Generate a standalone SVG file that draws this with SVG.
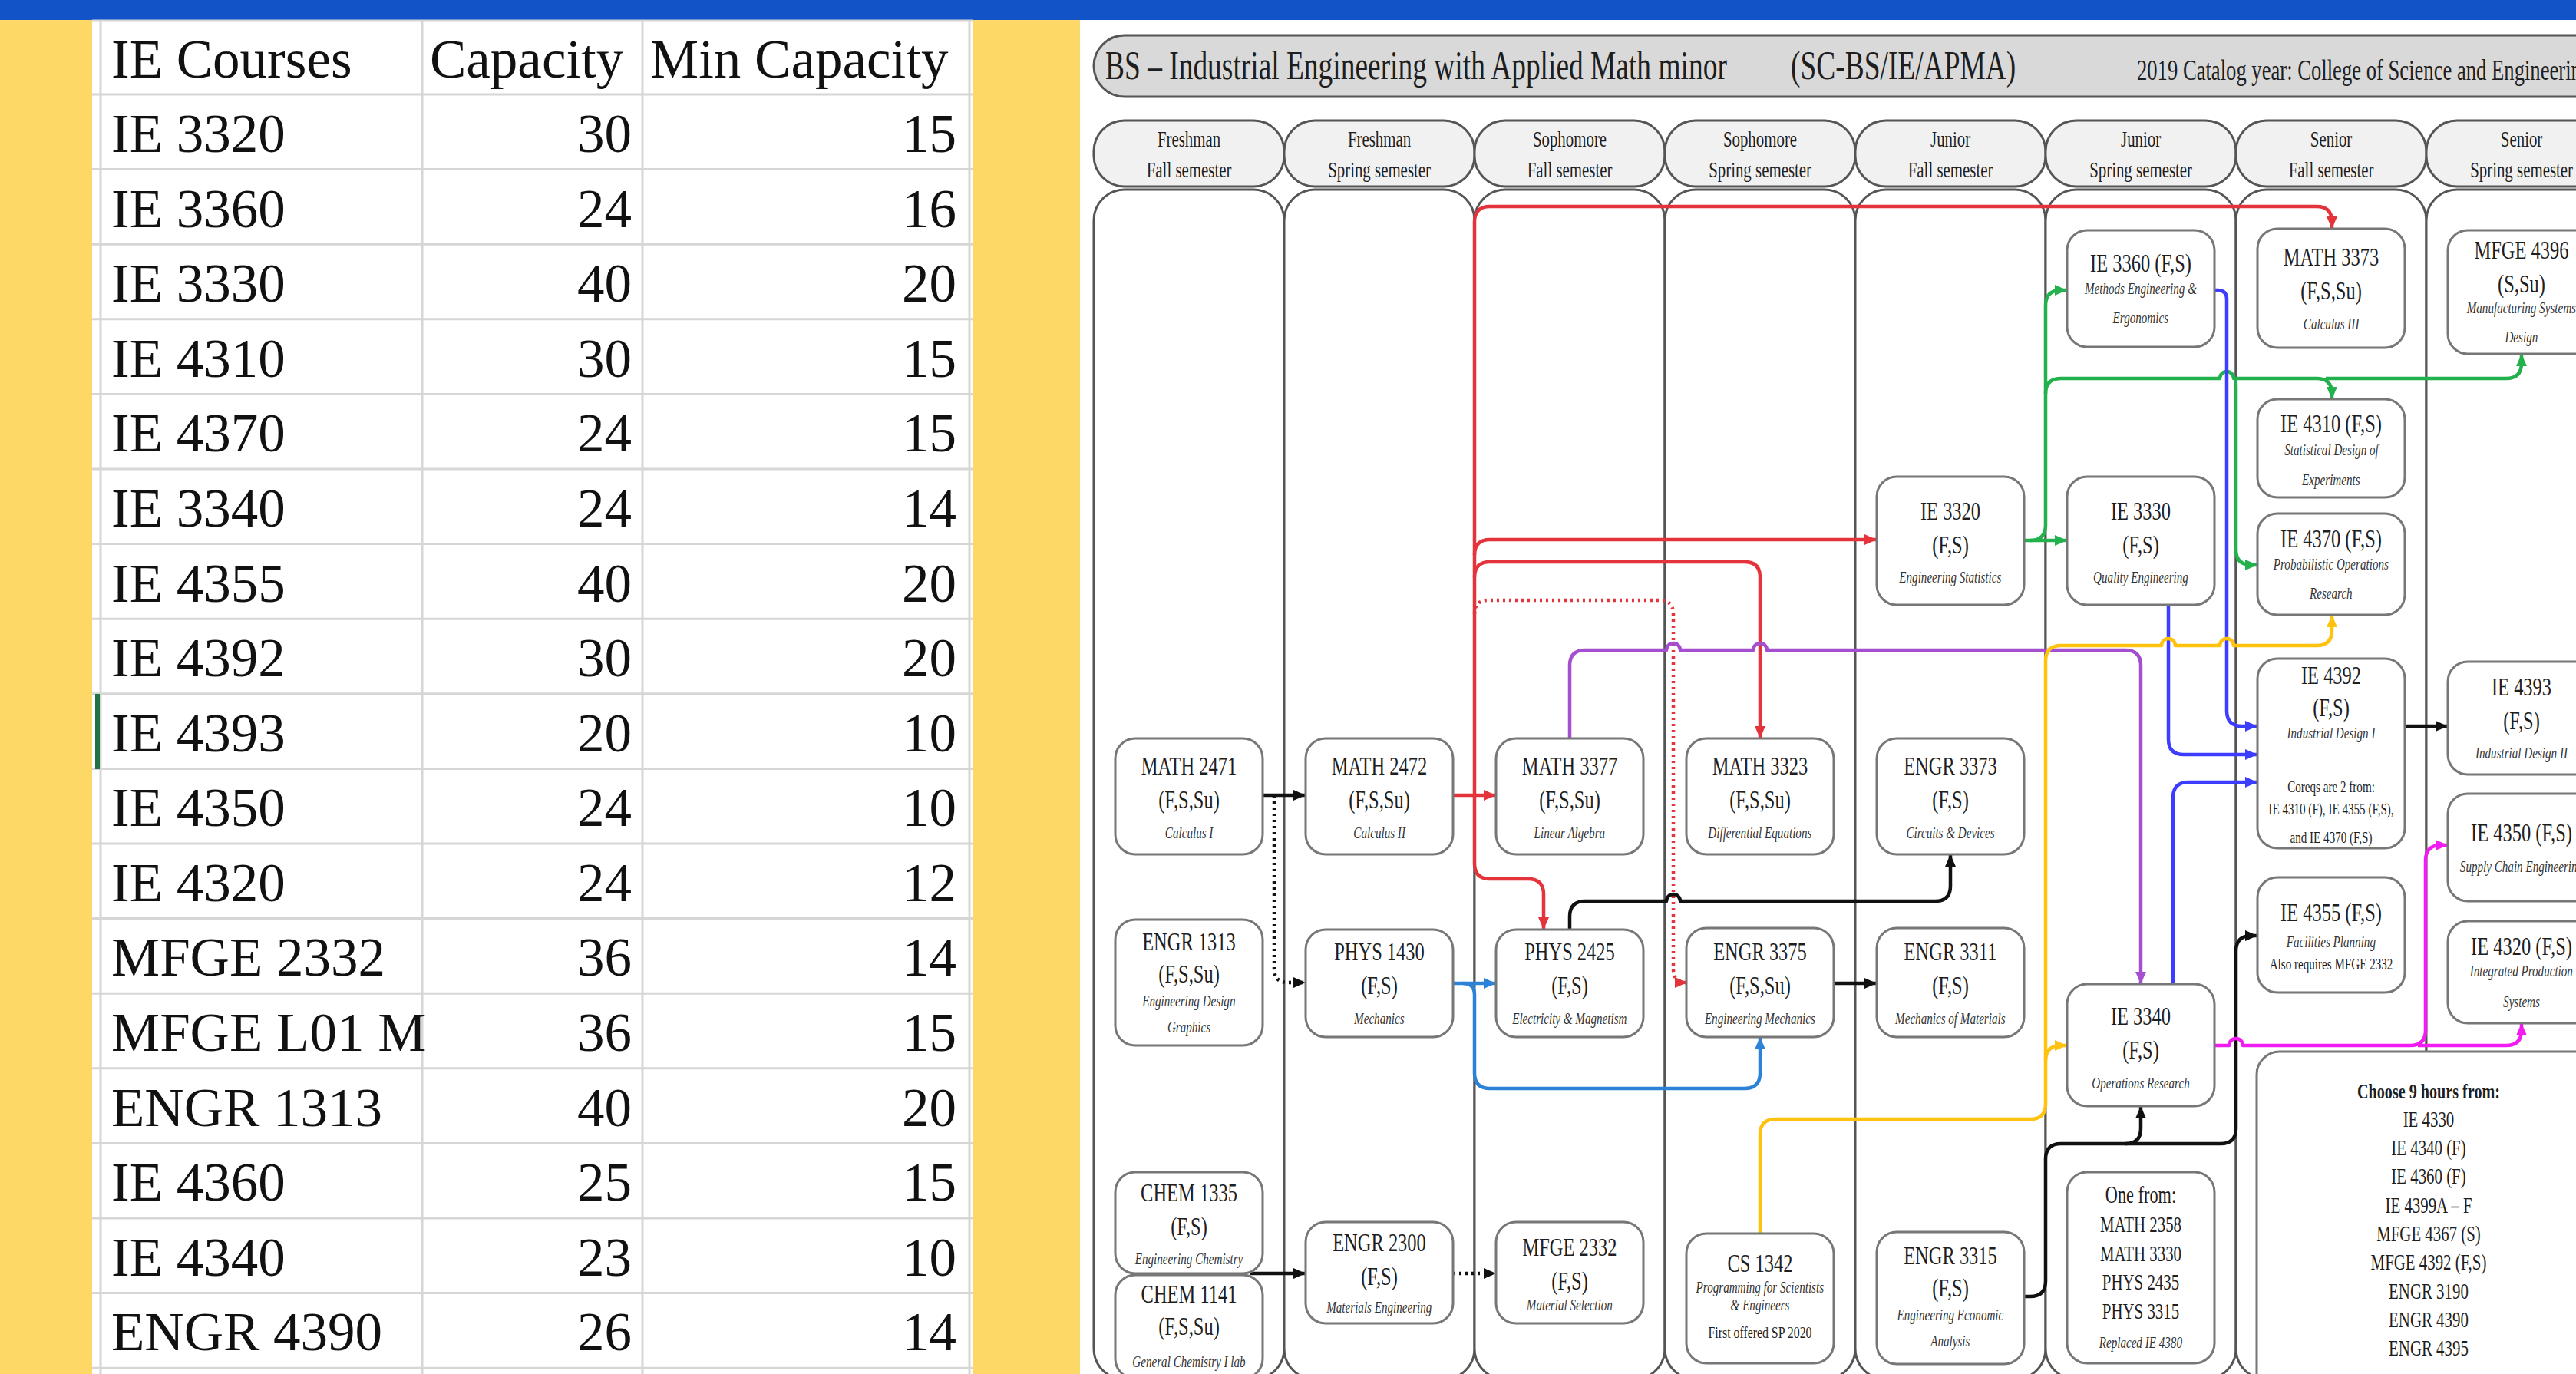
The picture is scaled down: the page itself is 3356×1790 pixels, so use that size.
<svg xmlns="http://www.w3.org/2000/svg" width="3356" height="1790" viewBox="0 0 3356 1790">
<style>
.tb{font-family:"Liberation Serif","Times New Roman",serif;font-size:71px;fill:#111}
.tr{text-anchor:end}
.grid{stroke:#d6d6d6;stroke-width:3}
.pill{fill:#f1f1f1;stroke:#555;stroke-width:3}
.lane{fill:#fff;stroke:#555;stroke-width:3}
.nd{fill:#fff;stroke:#777;stroke-width:3}
.x{font-family:"Liberation Serif","Times New Roman",serif;fill:#1e1e1e;text-anchor:middle;transform-box:fill-box;transform-origin:50% 50%;transform:scaleX(.72)}
.l{text-anchor:start;transform-origin:0 50%}
.h{font-size:34px}
.s{font-size:21px;font-style:italic;fill:#333}
.n{font-size:21px}
.sem{font-size:29px}
.ttl{font-size:52px}
.cat{font-size:37px}
.lst{font-size:29px}
.of{font-size:31px}
.bd{font-weight:bold;font-size:28px}
.c{fill:none;stroke-width:4.5;stroke-linejoin:round}
.dot{stroke-dasharray:3 5}
.red{stroke:#e5333b}.grn{stroke:#22b14c}.blu{stroke:#3d3dff}.pb{stroke:#2c82d6}.pur{stroke:#a34fd0}.yel{stroke:#ffc20e}.mag{stroke:#f21bf2}.blk{stroke:#111}
</style>
<defs>
<marker id="aR" viewBox="0 0 16 14" refX="15" refY="7" markerWidth="16" markerHeight="14" markerUnits="userSpaceOnUse" orient="auto"><path d="M0,0L16,7L0,14z" fill="#e5333b"/></marker>
<marker id="aG" viewBox="0 0 16 14" refX="15" refY="7" markerWidth="16" markerHeight="14" markerUnits="userSpaceOnUse" orient="auto"><path d="M0,0L16,7L0,14z" fill="#22b14c"/></marker>
<marker id="aB" viewBox="0 0 16 14" refX="15" refY="7" markerWidth="16" markerHeight="14" markerUnits="userSpaceOnUse" orient="auto"><path d="M0,0L16,7L0,14z" fill="#3d3dff"/></marker>
<marker id="aP" viewBox="0 0 16 14" refX="15" refY="7" markerWidth="16" markerHeight="14" markerUnits="userSpaceOnUse" orient="auto"><path d="M0,0L16,7L0,14z" fill="#2c82d6"/></marker>
<marker id="aU" viewBox="0 0 16 14" refX="15" refY="7" markerWidth="16" markerHeight="14" markerUnits="userSpaceOnUse" orient="auto"><path d="M0,0L16,7L0,14z" fill="#a34fd0"/></marker>
<marker id="aY" viewBox="0 0 16 14" refX="15" refY="7" markerWidth="16" markerHeight="14" markerUnits="userSpaceOnUse" orient="auto"><path d="M0,0L16,7L0,14z" fill="#ffc20e"/></marker>
<marker id="aM" viewBox="0 0 16 14" refX="15" refY="7" markerWidth="16" markerHeight="14" markerUnits="userSpaceOnUse" orient="auto"><path d="M0,0L16,7L0,14z" fill="#f21bf2"/></marker>
<marker id="aK" viewBox="0 0 16 14" refX="15" refY="7" markerWidth="16" markerHeight="14" markerUnits="userSpaceOnUse" orient="auto"><path d="M0,0L16,7L0,14z" fill="#111"/></marker>
</defs>

<!-- background -->
<rect x="0" y="0" width="3356" height="1790" fill="#fed866"/>
<rect x="0" y="0" width="3356" height="26" fill="#1253c8"/>

<!-- spreadsheet table -->
<g id="table">
<rect x="120" y="26" width="1147" height="1764" fill="#fff"/>
<g class="grid">
<line x1="120" y1="27" x2="1267" y2="27"/>
<line x1="120" y1="123" x2="1267" y2="123"/>
<line x1="120" y1="220.6" x2="1267" y2="220.6"/>
<line x1="120" y1="318.2" x2="1267" y2="318.2"/>
<line x1="120" y1="415.8" x2="1267" y2="415.8"/>
<line x1="120" y1="513.4" x2="1267" y2="513.4"/>
<line x1="120" y1="611" x2="1267" y2="611"/>
<line x1="120" y1="708.6" x2="1267" y2="708.6"/>
<line x1="120" y1="806.2" x2="1267" y2="806.2"/>
<line x1="120" y1="903.8" x2="1267" y2="903.8"/>
<line x1="120" y1="1001.4" x2="1267" y2="1001.4"/>
<line x1="120" y1="1099" x2="1267" y2="1099"/>
<line x1="120" y1="1196.6" x2="1267" y2="1196.6"/>
<line x1="120" y1="1294.2" x2="1267" y2="1294.2"/>
<line x1="120" y1="1391.8" x2="1267" y2="1391.8"/>
<line x1="120" y1="1489.4" x2="1267" y2="1489.4"/>
<line x1="120" y1="1587" x2="1267" y2="1587"/>
<line x1="120" y1="1684.6" x2="1267" y2="1684.6"/>
<line x1="120" y1="1782.2" x2="1267" y2="1782.2"/>
<line x1="131" y1="26" x2="131" y2="1790"/>
<line x1="550" y1="26" x2="550" y2="1790"/>
<line x1="837" y1="26" x2="837" y2="1790"/>
<line x1="1263" y1="26" x2="1263" y2="1790"/>
</g>
<rect x="124" y="904" width="6" height="98" fill="#217346"/>
<text class="tb" x="145" y="101">IE Courses</text><text class="tb" x="560" y="101">Capacity</text><text class="tb" x="847" y="101">Min Capacity</text>
<text class="tb" x="145" y="198">IE 3320</text><text class="tb tr" x="823" y="198">30</text><text class="tb tr" x="1246" y="198">15</text>
<text class="tb" x="145" y="296">IE 3360</text><text class="tb tr" x="823" y="296">24</text><text class="tb tr" x="1246" y="296">16</text>
<text class="tb" x="145" y="393">IE 3330</text><text class="tb tr" x="823" y="393">40</text><text class="tb tr" x="1246" y="393">20</text>
<text class="tb" x="145" y="491">IE 4310</text><text class="tb tr" x="823" y="491">30</text><text class="tb tr" x="1246" y="491">15</text>
<text class="tb" x="145" y="588">IE 4370</text><text class="tb tr" x="823" y="588">24</text><text class="tb tr" x="1246" y="588">15</text>
<text class="tb" x="145" y="686">IE 3340</text><text class="tb tr" x="823" y="686">24</text><text class="tb tr" x="1246" y="686">14</text>
<text class="tb" x="145" y="784">IE 4355</text><text class="tb tr" x="823" y="784">40</text><text class="tb tr" x="1246" y="784">20</text>
<text class="tb" x="145" y="881">IE 4392</text><text class="tb tr" x="823" y="881">30</text><text class="tb tr" x="1246" y="881">20</text>
<text class="tb" x="145" y="979">IE 4393</text><text class="tb tr" x="823" y="979">20</text><text class="tb tr" x="1246" y="979">10</text>
<text class="tb" x="145" y="1076">IE 4350</text><text class="tb tr" x="823" y="1076">24</text><text class="tb tr" x="1246" y="1076">10</text>
<text class="tb" x="145" y="1174">IE 4320</text><text class="tb tr" x="823" y="1174">24</text><text class="tb tr" x="1246" y="1174">12</text>
<text class="tb" x="145" y="1271">MFGE 2332</text><text class="tb tr" x="823" y="1271">36</text><text class="tb tr" x="1246" y="1271">14</text>
<text class="tb" x="145" y="1369">MFGE L01 M</text><text class="tb tr" x="823" y="1369">36</text><text class="tb tr" x="1246" y="1369">15</text>
<text class="tb" x="145" y="1467">ENGR 1313</text><text class="tb tr" x="823" y="1467">40</text><text class="tb tr" x="1246" y="1467">20</text>
<text class="tb" x="145" y="1564">IE 4360</text><text class="tb tr" x="823" y="1564">25</text><text class="tb tr" x="1246" y="1564">15</text>
<text class="tb" x="145" y="1662">IE 4340</text><text class="tb tr" x="823" y="1662">23</text><text class="tb tr" x="1246" y="1662">10</text>
<text class="tb" x="145" y="1759">ENGR 4390</text><text class="tb tr" x="823" y="1759">26</text><text class="tb tr" x="1246" y="1759">14</text>
</g>

<!-- flowchart panel -->
<rect x="1407" y="26" width="1949" height="1764" fill="#fff"/>
<g id="title">
<rect x="1425" y="46" width="2000" height="80" rx="40" fill="#d9d9d9" stroke="#555" stroke-width="3"/>
<text class="x l ttl" x="1440" y="103">BS – Industrial Engineering with Applied Math minor</text>
<text class="x l ttl" x="2333" y="103">(SC-BS/IE/APMA)</text>
<text class="x l cat" x="2784" y="104">2019 Catalog year: College of Science and Engineering</text>
</g>

<g id="semesters">
<rect class="pill" x="1425" y="157" width="248" height="86" rx="40"/>
<rect class="pill" x="1673" y="157" width="248" height="86" rx="40"/>
<rect class="pill" x="1921" y="157" width="248" height="86" rx="40"/>
<rect class="pill" x="2169" y="157" width="248" height="86" rx="40"/>
<rect class="pill" x="2417" y="157" width="248" height="86" rx="40"/>
<rect class="pill" x="2665" y="157" width="248" height="86" rx="40"/>
<rect class="pill" x="2913" y="157" width="248" height="86" rx="40"/>
<rect class="pill" x="3161" y="157" width="248" height="86" rx="40"/>
<text class="x sem" x="1549" y="191">Freshman</text><text class="x sem" x="1549" y="231">Fall semester</text>
<text class="x sem" x="1797" y="191">Freshman</text><text class="x sem" x="1797" y="231">Spring semester</text>
<text class="x sem" x="2045" y="191">Sophomore</text><text class="x sem" x="2045" y="231">Fall semester</text>
<text class="x sem" x="2293" y="191">Sophomore</text><text class="x sem" x="2293" y="231">Spring semester</text>
<text class="x sem" x="2541" y="191">Junior</text><text class="x sem" x="2541" y="231">Fall semester</text>
<text class="x sem" x="2789" y="191">Junior</text><text class="x sem" x="2789" y="231">Spring semester</text>
<text class="x sem" x="3037" y="191">Senior</text><text class="x sem" x="3037" y="231">Fall semester</text>
<text class="x sem" x="3285" y="191">Senior</text><text class="x sem" x="3285" y="231">Spring semester</text>
</g>

<g id="lanes">
<rect class="lane" x="1425" y="247" width="248" height="1550" rx="40"/>
<rect class="lane" x="1673" y="247" width="248" height="1550" rx="40"/>
<rect class="lane" x="1921" y="247" width="248" height="1550" rx="40"/>
<rect class="lane" x="2169" y="247" width="248" height="1550" rx="40"/>
<rect class="lane" x="2417" y="247" width="248" height="1550" rx="40"/>
<rect class="lane" x="2665" y="247" width="248" height="1550" rx="40"/>
<rect class="lane" x="2913" y="247" width="248" height="1550" rx="40"/>
<rect class="lane" x="3161" y="247" width="248" height="1550" rx="40"/>
</g>

<g id="connectors">
<!-- red: MATH 2472 -->
<path class="c red" d="M1893,1036 L1948,1036" marker-end="url(#aR)"/>
<path class="c red" d="M1921,1036 L1921,289 Q1921,269 1941,269 L3018,269 Q3038,269 3038,289 L3038,297" marker-end="url(#aR)"/>
<path class="c red" d="M1921,723 Q1921,703 1941,703 L2444,703" marker-end="url(#aR)"/>
<path class="c red" d="M1921,752 Q1921,732 1941,732 L2273,732 Q2293,732 2293,752 L2293,961" marker-end="url(#aR)"/>
<path class="c red dot" d="M1921,800 Q1921,782 1939,782 L2162,782 Q2180,782 2180,800 L2180,1262 Q2180,1280 2197,1280" marker-end="url(#aR)"/>
<path class="c red" d="M1921,1036 L1921,1125 Q1921,1145 1941,1145 L1991,1145 Q2011,1145 2011,1165 L2011,1210" marker-end="url(#aR)"/>
<!-- black / dotted black -->
<path class="c blk" d="M1645,1036 L1700,1036" marker-end="url(#aK)"/>
<path class="c blk dot" d="M1660,1036 L1660,1262 Q1660,1280 1678,1280 L1700,1280" marker-end="url(#aK)"/>
<path class="c blk" d="M1628,1659 L1700,1659" marker-end="url(#aK)"/>
<path class="c blk dot" d="M1893,1659 L1948,1659" marker-end="url(#aK)"/>
<path class="c blk" d="M2045,1211 L2045,1194 Q2045,1174 2065,1174 L2171,1174 A9,9 0 0 1 2189,1174 L2521,1174 Q2541,1174 2541,1154 L2541,1114" marker-end="url(#aK)"/>
<path class="c blk" d="M2389,1281 L2444,1281" marker-end="url(#aK)"/>
<path class="c blk" d="M2637,1689 L2645,1689 Q2665,1689 2665,1669 L2665,1510 Q2665,1490 2685,1490 L2769,1490 Q2789,1490 2789,1470 L2789,1442" marker-end="url(#aK)"/>
<path class="c blk" d="M2769,1490 L2893,1490 Q2913,1490 2913,1470 L2913,1239 Q2913,1219 2933,1219 L2940,1219" marker-end="url(#aK)"/>
<path class="c blk" d="M3133,946 L3188,946" marker-end="url(#aK)"/>
<!-- PHYS blue -->
<path class="c pb" d="M1893,1281 L1948,1281" marker-end="url(#aP)"/>
<path class="c pb" d="M1906,1281 Q1921,1281 1921,1296 L1921,1398 Q1921,1418 1941,1418 L2273,1418 Q2293,1418 2293,1398 L2293,1352" marker-end="url(#aP)"/>
<!-- purple -->
<path class="c pur" d="M2045,962 L2045,867 Q2045,847 2065,847 L2171,847 A9,9 0 0 1 2189,847 L2284,847 A9,9 0 0 1 2302,847 L2769,847 Q2789,847 2789,867 L2789,1281" marker-end="url(#aU)"/>
<!-- green -->
<path class="c grn" d="M2637,704 L2692,704" marker-end="url(#aG)"/>
<path class="c grn" d="M2645,704 Q2665,704 2665,684 L2665,398 Q2665,378 2685,378 L2692,378" marker-end="url(#aG)"/>
<path class="c grn" d="M2665,513 Q2665,493 2685,493 L2892,493 A9,9 0 0 1 2910,493 L3018,493 Q3038,493 3038,513 L3038,519" marker-end="url(#aG)"/>
<path class="c grn" d="M3030,493 L3265,493 Q3285,493 3285,473 L3285,462" marker-end="url(#aG)"/>
<path class="c grn" d="M2910,493 Q2913,493 2913,503 L2913,716 Q2913,736 2933,736 L2940,736" marker-end="url(#aG)"/>
<!-- IE blue -->
<path class="c blu" d="M2885,378 L2889,378 Q2901,378 2901,390 L2901,926 Q2901,946 2921,946 L2940,946" marker-end="url(#aB)"/>
<path class="c blu" d="M2825,788 L2825,963 Q2825,983 2845,983 L2940,983" marker-end="url(#aB)"/>
<path class="c blu" d="M2831,1282 L2831,1039 Q2831,1019 2851,1019 L2940,1019" marker-end="url(#aB)"/>
<!-- yellow -->
<path class="c yel" d="M2293,1607 L2293,1478 Q2293,1458 2313,1458 L2645,1458 Q2665,1458 2665,1438 L2665,861 Q2665,841 2685,841 L2816,841 A9,9 0 0 1 2834,841 L2892,841 A9,9 0 0 1 2910,841 L3018,841 Q3038,841 3038,821 L3038,802" marker-end="url(#aY)"/>
<path class="c yel" d="M2665,1382 Q2665,1362 2685,1362 L2692,1362" marker-end="url(#aY)"/>
<!-- magenta -->
<path class="c mag" d="M2885,1362 L2904,1362 A9,9 0 0 1 2922,1362 L3140,1362 Q3160,1362 3160,1342 L3160,1121 Q3160,1101 3180,1101 L3188,1101" marker-end="url(#aM)"/>
<path class="c mag" d="M3150,1362 L3265,1362 Q3285,1362 3285,1342 L3285,1334" marker-end="url(#aM)"/>
</g>

<!-- nodes -->
<g id="math2471"><rect class="nd" x="1453" y="962" width="192" height="151" rx="26"/>
<text class="x h" x="1549" y="1009">MATH 2471</text><text class="x h" x="1549" y="1053">(F,S,Su)</text><text class="x s" x="1549" y="1092">Calculus I</text></g>
<g id="math2472"><rect class="nd" x="1701" y="962" width="192" height="151" rx="26"/>
<text class="x h" x="1797" y="1009">MATH 2472</text><text class="x h" x="1797" y="1053">(F,S,Su)</text><text class="x s" x="1797" y="1092">Calculus II</text></g>
<g id="math3377"><rect class="nd" x="1949" y="962" width="192" height="151" rx="26"/>
<text class="x h" x="2045" y="1009">MATH 3377</text><text class="x h" x="2045" y="1053">(F,S,Su)</text><text class="x s" x="2045" y="1092">Linear Algebra</text></g>
<g id="math3323"><rect class="nd" x="2197" y="962" width="192" height="151" rx="26"/>
<text class="x h" x="2293" y="1009">MATH 3323</text><text class="x h" x="2293" y="1053">(F,S,Su)</text><text class="x s" x="2293" y="1092">Differential Equations</text></g>
<g id="engr3373"><rect class="nd" x="2445" y="962" width="192" height="151" rx="26"/>
<text class="x h" x="2541" y="1009">ENGR 3373</text><text class="x h" x="2541" y="1053">(F,S)</text><text class="x s" x="2541" y="1092">Circuits &amp; Devices</text></g>
<g id="ie3320"><rect class="nd" x="2445" y="621" width="192" height="167" rx="26"/>
<text class="x h" x="2541" y="677">IE 3320</text><text class="x h" x="2541" y="721">(F,S)</text><text class="x s" x="2541" y="759">Engineering Statistics</text></g>
<g id="ie3360"><rect class="nd" x="2693" y="300" width="192" height="152" rx="26"/>
<text class="x h" x="2789" y="354">IE 3360 (F,S)</text><text class="x s" x="2789" y="383">Methods Engineering &amp;</text><text class="x s" x="2789" y="421">Ergonomics</text></g>
<g id="ie3330"><rect class="nd" x="2693" y="621" width="192" height="167" rx="26"/>
<text class="x h" x="2789" y="677">IE 3330</text><text class="x h" x="2789" y="721">(F,S)</text><text class="x s" x="2789" y="759">Quality Engineering</text></g>
<g id="math3373"><rect class="nd" x="2941" y="298" width="192" height="155" rx="26"/>
<text class="x h" x="3037" y="346">MATH 3373</text><text class="x h" x="3037" y="390">(F,S,Su)</text><text class="x s" x="3037" y="429">Calculus III</text></g>
<g id="ie4310"><rect class="nd" x="2941" y="520" width="192" height="128" rx="26"/>
<text class="x h" x="3037" y="563">IE 4310 (F,S)</text><text class="x s" x="3037" y="593">Statistical Design of</text><text class="x s" x="3037" y="632">Experiments</text></g>
<g id="ie4370"><rect class="nd" x="2941" y="669" width="192" height="132" rx="26"/>
<text class="x h" x="3037" y="713">IE 4370 (F,S)</text><text class="x s" x="3037" y="742">Probabilistic Operations</text><text class="x s" x="3037" y="780">Research</text></g>
<g id="ie4392"><rect class="nd" x="2941" y="858" width="192" height="247" rx="26"/>
<text class="x h" x="3037" y="891">IE 4392</text><text class="x h" x="3037" y="933">(F,S)</text><text class="x s" x="3037" y="962">Industrial Design I</text>
<text class="x n" x="3037" y="1032">Coreqs are 2 from:</text><text class="x n" x="3037" y="1061">IE 4310 (F), IE 4355 (F,S),</text><text class="x n" x="3037" y="1098">and IE 4370 (F,S)</text></g>
<g id="mfge4396"><rect class="nd" x="3189" y="300" width="192" height="161" rx="26"/>
<text class="x h" x="3285" y="337">MFGE 4396</text><text class="x h" x="3285" y="381">(S,Su)</text><text class="x s" x="3285" y="408">Manufacturing Systems</text><text class="x s" x="3285" y="446">Design</text></g>
<g id="ie4393"><rect class="nd" x="3189" y="862" width="192" height="147" rx="26"/>
<text class="x h" x="3285" y="906">IE 4393</text><text class="x h" x="3285" y="950">(F,S)</text><text class="x s" x="3285" y="988">Industrial Design II</text></g>
<g id="ie4350"><rect class="nd" x="3189" y="1034" width="192" height="140" rx="26"/>
<text class="x h" x="3285" y="1096">IE 4350 (F,S)</text><text class="x s" x="3285" y="1136">Supply Chain Engineering</text></g>
<g id="ie4355"><rect class="nd" x="2941" y="1143" width="192" height="150" rx="26"/>
<text class="x h" x="3037" y="1200">IE 4355 (F,S)</text><text class="x s" x="3037" y="1234">Facilities Planning</text><text class="x n" x="3037" y="1263">Also requires MFGE 2332</text></g>
<g id="ie4320"><rect class="nd" x="3189" y="1200" width="192" height="133" rx="26"/>
<text class="x h" x="3285" y="1244">IE 4320 (F,S)</text><text class="x s" x="3285" y="1272">Integrated Production</text><text class="x s" x="3285" y="1312">Systems</text></g>
<g id="ie3340"><rect class="nd" x="2693" y="1282" width="192" height="159" rx="26"/>
<text class="x h" x="2789" y="1335">IE 3340</text><text class="x h" x="2789" y="1379">(F,S)</text><text class="x s" x="2789" y="1418">Operations Research</text></g>
<g id="onefrom"><rect class="nd" x="2693" y="1527" width="192" height="249" rx="26"/>
<text class="x of" x="2789" y="1567">One from:</text><text class="x lst" x="2789" y="1605">MATH 2358</text><text class="x lst" x="2789" y="1643">MATH 3330</text><text class="x lst" x="2789" y="1680">PHYS 2435</text><text class="x lst" x="2789" y="1718">PHYS 3315</text><text class="x s" x="2789" y="1756">Replaced IE 4380</text></g>
<g id="choose"><rect class="nd" x="2940" y="1370" width="460" height="480" rx="30"/>
<text class="x bd" x="3164" y="1431">Choose 9 hours from:</text>
<text class="x lst" x="3164" y="1468">IE 4330</text><text class="x lst" x="3164" y="1505">IE 4340 (F)</text><text class="x lst" x="3164" y="1542">IE 4360 (F)</text><text class="x lst" x="3164" y="1580">IE 4399A – F</text><text class="x lst" x="3164" y="1617">MFGE 4367 (S)</text><text class="x lst" x="3164" y="1654">MFGE 4392 (F,S)</text><text class="x lst" x="3164" y="1692">ENGR 3190</text><text class="x lst" x="3164" y="1729">ENGR 4390</text><text class="x lst" x="3164" y="1766">ENGR 4395</text></g>
<g id="engr1313"><rect class="nd" x="1453" y="1198" width="192" height="164" rx="26"/>
<text class="x h" x="1549" y="1238">ENGR 1313</text><text class="x h" x="1549" y="1280">(F,S,Su)</text><text class="x s" x="1549" y="1311">Engineering Design</text><text class="x s" x="1549" y="1345">Graphics</text></g>
<g id="phys1430"><rect class="nd" x="1701" y="1211" width="192" height="140" rx="26"/>
<text class="x h" x="1797" y="1251">PHYS 1430</text><text class="x h" x="1797" y="1295">(F,S)</text><text class="x s" x="1797" y="1334">Mechanics</text></g>
<g id="phys2425"><rect class="nd" x="1949" y="1211" width="192" height="140" rx="26"/>
<text class="x h" x="2045" y="1251">PHYS 2425</text><text class="x h" x="2045" y="1295">(F,S)</text><text class="x s" x="2045" y="1334">Electricity &amp; Magnetism</text></g>
<g id="engr3375"><rect class="nd" x="2197" y="1209" width="192" height="142" rx="26"/>
<text class="x h" x="2293" y="1251">ENGR 3375</text><text class="x h" x="2293" y="1295">(F,S,Su)</text><text class="x s" x="2293" y="1334">Engineering Mechanics</text></g>
<g id="engr3311"><rect class="nd" x="2445" y="1209" width="192" height="142" rx="26"/>
<text class="x h" x="2541" y="1251">ENGR 3311</text><text class="x h" x="2541" y="1295">(F,S)</text><text class="x s" x="2541" y="1334">Mechanics of Materials</text></g>
<g id="chem1335"><rect class="nd" x="1453" y="1527" width="192" height="132" rx="26"/>
<text class="x h" x="1549" y="1565">CHEM 1335</text><text class="x h" x="1549" y="1609">(F,S)</text><text class="x s" x="1549" y="1647">Engineering Chemistry</text></g>
<g id="chem1141"><rect class="nd" x="1453" y="1661" width="192" height="135" rx="26"/>
<text class="x h" x="1549" y="1697">CHEM 1141</text><text class="x h" x="1549" y="1739">(F,S,Su)</text><text class="x s" x="1549" y="1781">General Chemistry I lab</text></g>
<g id="engr2300"><rect class="nd" x="1701" y="1592" width="192" height="132" rx="26"/>
<text class="x h" x="1797" y="1630">ENGR 2300</text><text class="x h" x="1797" y="1674">(F,S)</text><text class="x s" x="1797" y="1710">Materials Engineering</text></g>
<g id="mfge2332"><rect class="nd" x="1949" y="1592" width="192" height="132" rx="26"/>
<text class="x h" x="2045" y="1636">MFGE 2332</text><text class="x h" x="2045" y="1680">(F,S)</text><text class="x s" x="2045" y="1707">Material Selection</text></g>
<g id="cs1342"><rect class="nd" x="2197" y="1607" width="192" height="169" rx="26"/>
<text class="x h" x="2293" y="1657">CS 1342</text><text class="x s" x="2293" y="1684">Programming for Scientists</text><text class="x s" x="2293" y="1707">&amp; Engineers</text><text class="x n" style="font-size:22px" x="2293" y="1743">First offered SP 2020</text></g>
<g id="engr3315"><rect class="nd" x="2445" y="1605" width="192" height="172" rx="26"/>
<text class="x h" x="2541" y="1647">ENGR 3315</text><text class="x h" x="2541" y="1689">(F,S)</text><text class="x s" x="2541" y="1720">Engineering Economic</text><text class="x s" x="2541" y="1754">Analysis</text></g>
</svg>
